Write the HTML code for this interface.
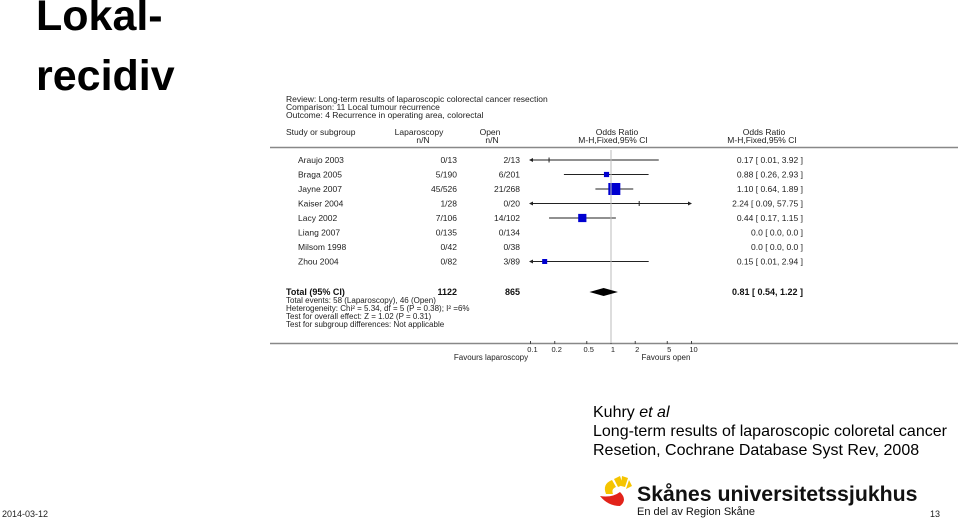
<!DOCTYPE html>
<html><head><meta charset="utf-8">
<style>
html,body{margin:0;padding:0;background:#fff;}
body{width:960px;height:518px;position:relative;overflow:hidden;font-family:"Liberation Sans",sans-serif;}
.t{position:absolute;font-weight:bold;font-size:43px;left:36px;color:#000;}
.cite{position:absolute;left:593px;font-size:16px;color:#000;line-height:19px;}
svg text{font-family:"Liberation Sans",sans-serif;}
</style></head><body>
<div class="t" style="top:-8px;">Lokal-</div>
<div class="t" style="top:52px;">recidiv</div>

<svg id="plot" width="960" height="518" style="position:absolute;left:0;top:0">
<g font-size="8.5" fill="#222">
<text x="286" y="102">Review:  Long-term results of laparoscopic colorectal cancer resection</text>
<text x="286" y="110">Comparison:  11 Local tumour recurrence</text>
<text x="286" y="118">Outcome:  4 Recurrence in operating area, colorectal</text>
<text x="286" y="135">Study or subgroup</text>
<text x="419" y="135" text-anchor="middle">Laparoscopy</text>
<text x="423" y="143" text-anchor="middle">n/N</text>
<text x="490" y="135" text-anchor="middle">Open</text>
<text x="492" y="143" text-anchor="middle">n/N</text>
<text x="617" y="135" text-anchor="middle">Odds Ratio</text>
<text x="613" y="143" text-anchor="middle">M-H,Fixed,95% CI</text>
<text x="764" y="135" text-anchor="middle">Odds Ratio</text>
<text x="762" y="143" text-anchor="middle">M-H,Fixed,95% CI</text>
</g>
<line x1="270" y1="147.5" x2="958" y2="147.5" stroke="#888" stroke-width="1.5"/>
<g id="rows" font-size="8.5" fill="#222"></g>
<g font-size="9" font-weight="bold" fill="#111">
<text x="286" y="295">Total (95% CI)</text>
<text x="457" y="295" text-anchor="end">1122</text>
<text x="520" y="295" text-anchor="end">865</text>
<text x="803" y="295" text-anchor="end">0.81 [ 0.54, 1.22 ]</text>
</g>
<g font-size="8" fill="#222">
<text x="286" y="303">Total events: 58 (Laparoscopy), 46 (Open)</text>
<text x="286" y="311">Heterogeneity: Chi² = 5.34, df = 5 (P = 0.38); I² =6%</text>
<text x="286" y="319">Test for overall effect: Z = 1.02 (P = 0.31)</text>
<text x="286" y="327">Test for subgroup differences: Not applicable</text>
</g>
<line x1="270" y1="343.5" x2="958" y2="343.5" stroke="#888" stroke-width="1.5"/>
<g id="axis" font-size="7.5" fill="#222"></g>
<text x="491" y="360" font-size="8" text-anchor="middle" fill="#222">Favours laparoscopy</text>
<text x="666" y="360" font-size="8" text-anchor="middle" fill="#222">Favours open</text>

<g>
<path d="M606 494 Q602 484 612 480 L616 487 Q611 489 613 494 Z" fill="#f5c400"/>
<path d="M614 479 L620 476 L623 485 L618 487 Z" fill="#f5c400"/>
<path d="M622 476 L628 478 L625 487 L621 486 Z" fill="#f5c400"/>
<path d="M629 480 L632 486 L626 489 Z" fill="#f5c400"/>
<path d="M600 496 Q612 498 620 492 Q628 500 620 506 Q608 506 600 496 Z" fill="#e2231a"/>
</g>
<text x="637" y="501" font-size="21.3" font-weight="bold" fill="#111">Skånes universitetssjukhus</text>
<text x="637" y="515" font-size="11" fill="#111">En del av Region Skåne</text>
<text x="2" y="517" font-size="9" fill="#222">2014-03-12</text>
<text x="940" y="517" font-size="9" fill="#222" text-anchor="end">13</text>
</svg>

<div class="cite" style="top:403px;">Kuhry <i>et al</i><br>Long-term results of laparoscopic coloretal cancer<br>Resetion, Cochrane Database Syst Rev, 2008</div>

<script>
const studies = ["Araujo 2003","Braga 2005","Jayne 2007","Kaiser 2004","Lacy 2002","Liang 2007","Milsom 1998","Zhou 2004"];
const lapText = ["0/13","5/190","45/526","1/28","7/106","0/135","0/42","0/82"];
const openText = ["2/13","6/201","21/268","0/20","14/102","0/134","0/38","3/89"];
const orVals = [0.17,0.88,1.10,2.24,0.44,null,null,0.15];
const ciLow = [0.01,0.26,0.64,0.09,0.17,null,null,0.01];
const ciHigh = [3.92,2.93,1.89,57.75,1.15,null,null,2.94];
const weights = [0,12,64,0,30,0,0,8];
const orLabels = ["0.17 [ 0.01, 3.92 ]","0.88 [ 0.26, 2.93 ]","1.10 [ 0.64, 1.89 ]","2.24 [ 0.09, 57.75 ]","0.44 [ 0.17, 1.15 ]","0.0 [ 0.0, 0.0 ]","0.0 [ 0.0, 0.0 ]","0.15 [ 0.01, 2.94 ]"];
const totalOR = [0.81,0.54,1.22];
const ticks = [0.1,0.2,0.5,1,2,5,10];
const tickLabels = ["0.1","0.2","0.5","1","2","5","10"];

const NS="http://www.w3.org/2000/svg";
const X0=611, DEC=80.5, XMIN=530, XMAX=691;
function xs(v){return X0+Math.log10(v)*DEC;}
function ys(i){return 160+i*14.5;}
function mk(tag,attrs,parent){const e=document.createElementNS(NS,tag);for(const k in attrs)e.setAttribute(k,attrs[k]);parent.appendChild(e);return e;}
const svg=document.getElementById('plot');
const rows=document.getElementById('rows');
const axis=document.getElementById('axis');

const ref=mk('line',{x1:xs(1),y1:150,x2:xs(1),y2:343,stroke:'#bbb','stroke-width':1},svg);



studies.forEach((s,i)=>{
  const y=ys(i);
  const g=mk('g',{},rows);
  
  
  mk('text',{x:298,y:y+3},g).textContent=s;
  mk('text',{x:457,y:y+3,'text-anchor':'end'},g).textContent=lapText[i];
  mk('text',{x:520,y:y+3,'text-anchor':'end'},g).textContent=openText[i];
  mk('text',{x:803,y:y+3,'text-anchor':'end'},g).textContent=orLabels[i];
  if(orVals[i]!==null){
    const lo=xs(ciLow[i]),hi=xs(ciHigh[i]);
    const a=Math.max(lo,XMIN),b=Math.min(hi,XMAX);
    const ln=mk('line',{x1:a,y1:y,x2:b,y2:y,stroke:'#222','stroke-width':1},g);
    
    
    if(lo<XMIN) mk('path',{d:`M${XMIN-1} ${y} l4 -2 v4 z`,fill:'#222'},g);
    if(hi>XMAX) mk('path',{d:`M${XMAX+1} ${y} l-4 -2 v4 z`,fill:'#222'},g);
    const cx=xs(orVals[i]);
    if(weights[i]>0){
      const sz=Math.max(5,Math.sqrt(weights[i])*1.5);
      const r=mk('rect',{x:cx-sz/2,y:y-sz/2,width:sz,height:sz,fill:'#0000d0'},g);
      
      
    } else {
      mk('line',{x1:cx,y1:y-2.5,x2:cx,y2:y+2.5,stroke:'#222','stroke-width':1},g);
    }
  }
});

const yt=292;
const dia=mk('path',{d:`M${xs(totalOR[1])} ${yt} L${xs(totalOR[0])} ${yt-4} L${xs(totalOR[2])} ${yt} L${xs(totalOR[0])} ${yt+4} Z`,fill:'#000'},svg);



ticks.forEach((t,i)=>{
  const x=xs(t);
  mk('line',{x1:x,y1:341,x2:x,y2:344,stroke:'#444'},axis);
  const tx=mk('text',{x:x+2,y:352,'text-anchor':'middle'},axis);
  tx.textContent=tickLabels[i];
  
  
});
</script>
</body></html>
